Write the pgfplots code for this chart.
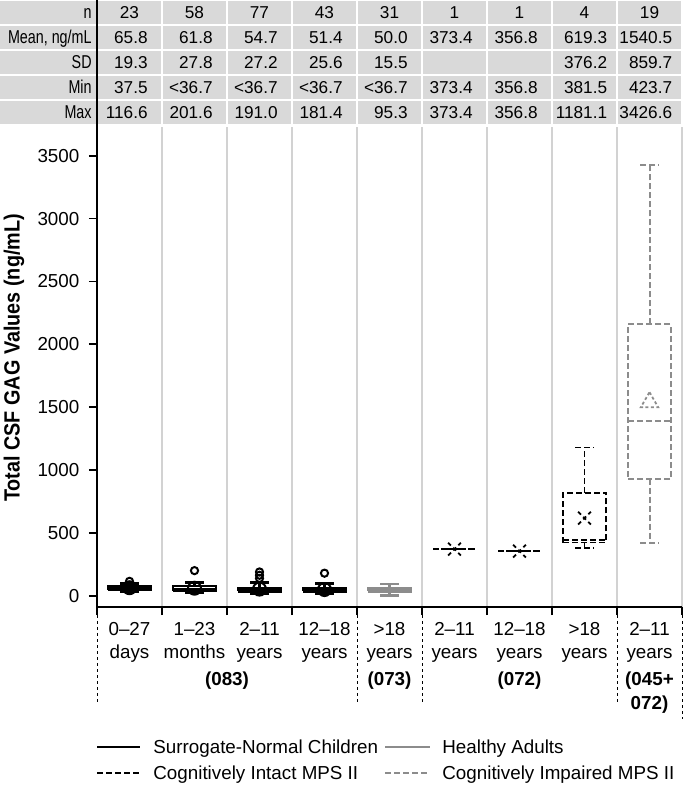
\documentclass[border=0pt]{standalone}
\usepackage{fontspec}
\setmainfont{Liberation Sans}
\newfontfamily\condfont{Liberation Sans}[FakeStretch=0.77]
\newfontfamily\ylabfont{Liberation Sans}[FakeStretch=0.9]
\usepackage{pgfplots}
\pgfplotsset{compat=1.18}
\definecolor{tablegray}{HTML}{D9D9D9}
\definecolor{adultgray}{HTML}{8C8C8C}
\definecolor{gridgray}{HTML}{D2D2D2}
\newcommand\tabfont{\fontsize{8.6}{10}\selectfont}
\newcommand\labfont{\fontsize{9.4}{11}\selectfont}
% box: #1 position, #2 lower whisker, #3 Q1, #4 median, #5 Q3, #6 upper whisker, #7 style
\newcommand\bx[7]{%
  \pgfmathsetmacro\bxL{#1-0.33}%
  \pgfmathsetmacro\bxR{#1+0.33}%
  \pgfmathsetmacro\bxcl{#1-0.14}%
  \pgfmathsetmacro\bxcr{#1+0.14}%
  \addplot[#7] coordinates {(\bxL,#3) (\bxR,#3) (\bxR,#5) (\bxL,#5) (\bxL,#3)};
  \addplot[#7] coordinates {(\bxL,#4) (\bxR,#4)};
  \addplot[#7] coordinates {(#1,#5) (#1,#6)};
  \addplot[#7] coordinates {(#1,#3) (#1,#2)};
  \addplot[#7] coordinates {(\bxcl,#6) (\bxcr,#6)};
  \addplot[#7] coordinates {(\bxcl,#2) (\bxcr,#2)};
}
\begin{document}
\labfont
\begin{tikzpicture}[font=\labfont]
\begin{axis}[
  at={(0,0)}, anchor=south west,
  scale only axis, width=292.5pt, height=240pt,
  xmin=-0.5, xmax=8.5, ymin=-87.4, ymax=3728,
  axis x line*=bottom, axis y line*=left,
  axis line style={line width=0.9pt},
  xtick={-0.5,0.5,1.5,2.5,3.5,4.5,5.5,6.5,7.5,8.5}, xticklabels={},
  xmajorgrids, grid style={gridgray, line width=0.6pt},
  ytick={0,500,1000,1500,2000,2500,3000,3500},
  scaled ticks=false,
  tick align=outside, major tick length=4pt,
  tick style={black, line width=0.9pt},
  yticklabel style={xshift=-1.5pt},
  tick label style={font=\labfont},
  /pgf/number format/assume math mode=true,
  /pgf/number format/1000 sep={},
  clip=false,
]
% Surrogate-normal children (083)
\bx{0}{37.5}{47}{60}{80}{100}{black, line width=1.3pt, line join=miter}
\bx{1}{25}{40}{55}{80}{109}{black, line width=1.3pt, line join=miter}
\bx{2}{20}{36.7}{42}{60}{105}{black, line width=1.3pt, line join=miter}
\bx{3}{20}{36.7}{42}{60}{100}{black, line width=1.3pt, line join=miter}
\addplot[only marks, mark=o, mark size=1.8pt, black, line width=1pt]
  coordinates {(0,116.6) (1,201.6) (2,191.0) (2,165) (2,140) (3,181.4)};
% Healthy adults (073)
\bx{4}{5}{36.7}{45}{60}{95.3}{adultgray, line width=1.2pt, line join=miter}
% Cognitively intact MPS II (072)
\bx{5}{373.4}{373.4}{373.4}{373.4}{373.4}{black, line width=0.9pt, dash pattern=on 3pt off 1.5pt}
\bx{6}{356.8}{356.8}{356.8}{356.8}{356.8}{black, line width=0.9pt, dash pattern=on 3pt off 1.5pt}
\bx{7}{381.5}{425}{445}{821}{1181.1}{black, line width=0.9pt, dash pattern=on 3pt off 1.5pt}
% Cognitively impaired MPS II (045+072)
\bx{8}{423.7}{933}{1395}{2160}{3426.6}{adultgray, line width=1pt, dash pattern=on 3pt off 1.5pt}
% means
\addplot[only marks, mark=o, mark size=3.25pt, black, line width=1pt]
  coordinates {(0,65.8) (1,61.8) (2,54.7) (3,51.4)};
\addplot[only marks, mark=+, mark size=3.25pt, adultgray, line width=1.1pt]
  coordinates {(4,50.0)};
\addplot[only marks, mark=x, mark size=4.5pt, black, line width=0.9pt,
  mark options={dash pattern=on 2pt off 1.6pt}]
  coordinates {(5,373.4) (6,356.8) (7,619.3)};
\addplot[only marks, mark=triangle, mark size=5pt, adultgray, line width=0.9pt,
  mark options={dash pattern=on 1.5pt off 1.2pt}]
  coordinates {(8,1540.5)};
\end{axis}

% ---- summary table above the plot ----
\foreach \k in {0,...,4} {
  \fill[tablegray] (-48.5pt, {(606-25*\k)/2*1pt}) rectangle (-0.6pt, {(583-25*\k)/2*1pt});
  \foreach \j in {0,...,8} {
    \fill[tablegray] ({(65*\j+1)/2*1pt}, {(606-25*\k)/2*1pt}) rectangle ({(65*\j+64)/2*1pt}, {(583-25*\k)/2*1pt});
  }
}
\draw[black, line width=0.9pt] (0,240pt) -- (0,303.5pt);
\foreach \lab [count=\k from 0] in {n,{Mean, ng/mL},SD,Min,Max} {
  \node[anchor=base east, inner sep=0, font=\condfont\fontsize{9.3}{11}\selectfont] at (-2.5pt, {(594.5-25*\k)/2*1pt-3.2pt}) {\lab};
}
\foreach \v [count=\c from 0] in {23,58,77,43,31,1,1,4,19} {
  \node[anchor=base, inner sep=0, font=\tabfont] at ({(32.5+65*\c)/2*1pt}, {594.5/2*1pt-3.1pt}) {\v};
}
\newcommand\tabrow[2]{%
  \foreach \v [count=\c from 0] in {#2} {
    \pgfmathsetmacro\xx{(32.5+65*\c+(\c>6?23:18.5))/2}
    \node[anchor=base east, inner sep=0, font=\tabfont] at (\xx pt, {(594.5-25*#1)/2*1pt-3.1pt}) {\v};
  }}
\tabrow{1}{65.8,61.8,54.7,51.4,50.0,373.4,356.8,619.3,1540.5}
\tabrow{2}{19.3,27.8,27.2,25.6,15.5,{},{},376.2,859.7}
\tabrow{3}{37.5,<36.7,<36.7,<36.7,<36.7,373.4,356.8,381.5,423.7}
\tabrow{4}{116.6,201.6,191.0,181.4,95.3,373.4,356.8,1181.1,3426.6}

% ---- y label ----
\node[rotate=90, font=\ylabfont\bfseries\fontsize{11}{13}\selectfont] at (-41.5pt,124.5pt) {Total CSF GAG Values (ng/mL)};

% ---- category labels ----
\foreach \a/\b [count=\c from 0] in {0–27/days,1–23/months,2–11/years,12–18/years,>18/years,2–11/years,12–18/years,>18/years,2–11/years} {
  \node[anchor=base, inner sep=0] at ({(32.5+65*\c)/2*1pt}, -14pt) {\a};
  \node[anchor=base, inner sep=0] at ({(32.5+65*\c)/2*1pt}, -25.7pt) {\b};
}
\node[anchor=base, inner sep=0, font=\labfont\bfseries] at (65pt,-39pt) {(083)};
\node[anchor=base, inner sep=0, font=\labfont\bfseries] at (146.25pt,-39pt) {(073)};
\node[anchor=base, inner sep=0, font=\labfont\bfseries] at (211.25pt,-39pt) {(072)};
\node[anchor=base, inner sep=0, font=\labfont\bfseries] at (276.25pt,-39pt) {(045+};
\node[anchor=base, inner sep=0, font=\labfont\bfseries] at (276.25pt,-51pt) {072)};
\foreach \x in {0,130,162.5,260} {
  \draw[black, line width=0.5pt, dash pattern=on 1.5pt off 1.5pt] (\x pt,-1pt) -- (\x pt,-49pt);
}
\draw[black, line width=0.5pt, dash pattern=on 1.5pt off 1.5pt] (292.5pt,-1pt) -- (292.5pt,-56pt);

% ---- legend ----
\draw[black, line width=1pt] (0,-70pt) -- (21.5pt,-70pt);
\node[anchor=base west, inner sep=0] at (28pt,-73.3pt) {Surrogate-Normal Children};
\draw[adultgray, line width=1pt] (144pt,-70pt) -- (166.5pt,-70pt);
\node[anchor=base west, inner sep=0] at (172.5pt,-73.3pt) {Healthy Adults};
\draw[black, line width=1pt, dash pattern=on 3pt off 1.5pt] (0,-83pt) -- (21.5pt,-83pt);
\node[anchor=base west, inner sep=0] at (28pt,-86.3pt) {Cognitively Intact MPS II};
\draw[adultgray, line width=1pt, dash pattern=on 3pt off 1.5pt] (144pt,-83pt) -- (166.5pt,-83pt);
\node[anchor=base west, inner sep=0] at (172.5pt,-86.3pt) {Cognitively Impaired MPS II};

\pgfresetboundingbox
\path (-48.5pt,-90pt) rectangle (294pt,303.5pt);
\end{tikzpicture}
\end{document}
